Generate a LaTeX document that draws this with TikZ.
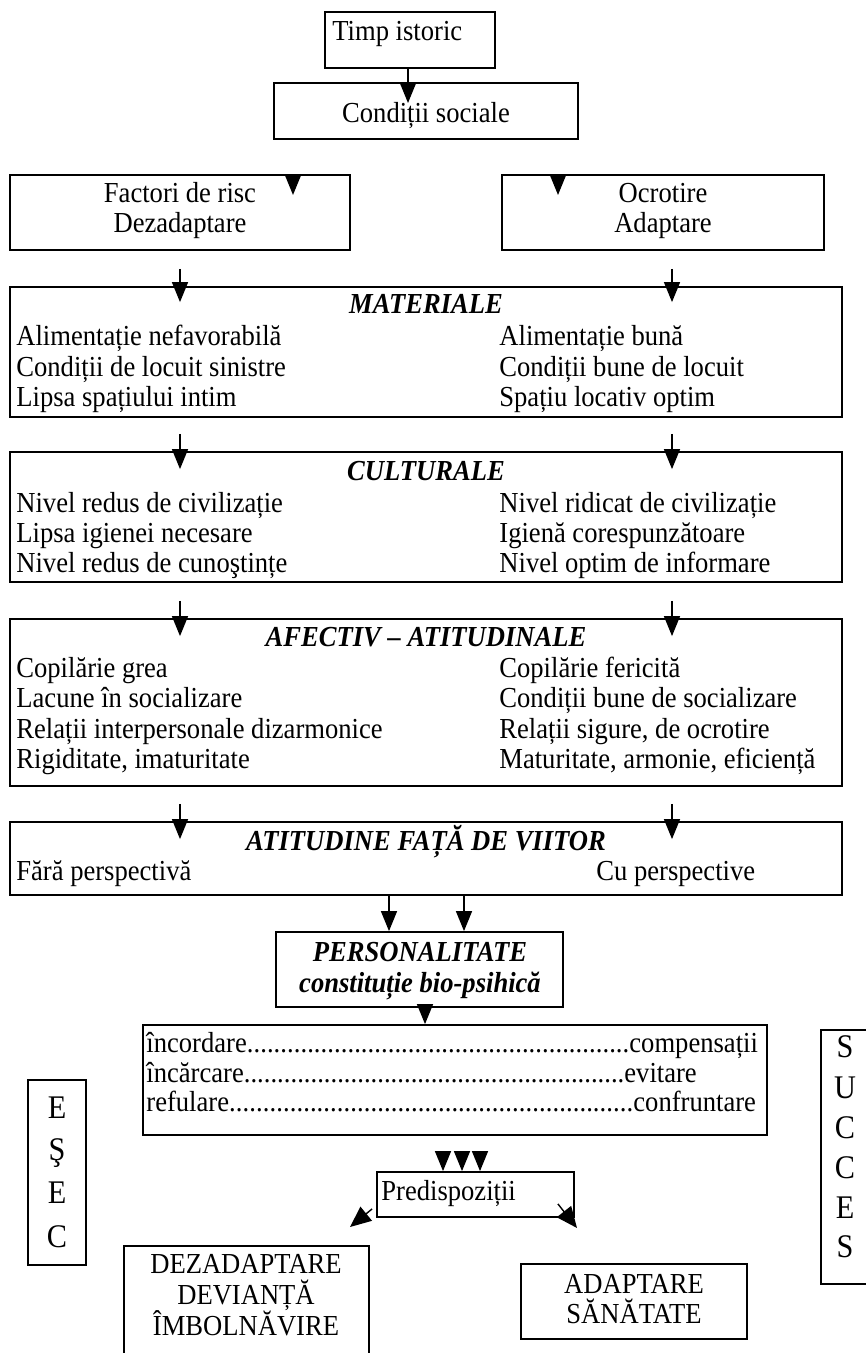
\documentclass[tikz,border=0pt]{standalone}
\usepackage{fontspec}
\setmainfont{Liberation Serif}[FakeStretch=0.917]
\usetikzlibrary{arrows.meta,fit}
\begin{document}
\begin{tikzpicture}[x=0.5pt,y=-0.5pt,
  box/.style={draw,line width=0.9pt,inner sep=0pt,fit={#1}},
  txt/.style={font=\fontsize{14.5}{16}\selectfont,inner sep=0pt,anchor=base west},
  txtc/.style={font=\fontsize{14.5}{16}\selectfont,inner sep=0pt,anchor=base},
  ttl/.style={font=\fontsize{14.5}{16}\selectfont\bfseries\itshape,inner sep=0pt,anchor=base},
  big/.style={font=\fontsize{16.5}{18}\selectfont,inner sep=0pt,anchor=base},
  arr/.style={-{Triangle[width=8pt,length=10pt]},line width=0.7pt}]
\useasboundingbox (0,0) rectangle (866,1353);
\clip (0,0) rectangle (866,1353);
\fill[white] (0,0) rectangle (866,1353);
% boxes
\node[box={(325,12)(495,68)}] (timp) {};
\node[box={(274,83)(578,139)}] (cond) {};
\node[box={(10,175)(350,250)}] (fact) {};
\node[box={(502,175)(824,250)}] (ocr) {};
\node[box={(10,287)(842,417)}] (mat) {};
\node[box={(10,452)(842,582)}] (cult) {};
\node[box={(10,619)(842,786)}] (afec) {};
\node[box={(10,822)(842,895)}] (atit) {};
\node[box={(276,932)(563,1007)}] (pers) {};
\node[box={(143,1025)(767,1135)}] (dots) {};
\node[box={(28,1080)(86,1265)}] (esec) {};
\node[box={(821,1030)(900,1284)}] (succ) {};
\node[box={(377,1172)(574,1217)}] (pred) {};
\node[box={(124,1246)(369,1420)}] (dez) {};
\node[box={(521,1264)(747,1339)}] (adap) {};
% texts
\node[txt] (tTimp) at (332,41) {Timp istoric};
\node[txtc] (tCond) at (426,123) {Condiții sociale};
\node[txtc] (tF1) at (180,203) {Factori de risc};
\node[txtc] (tF2) at (180,233) {Dezadaptare};
\node[txtc] (tO1) at (663,203) {Ocrotire};
\node[txtc] (tO2) at (663,233) {Adaptare};
\node[ttl] (tMat) at (426,314) {MATERIALE};
\node[txt] (m1) at (16,346) {Alimentație nefavorabilă};
\node[txt] (m2) at (16,376) {Condiții de locuit sinistre};
\node[txt] (m3) at (16,406) {Lipsa spațiului intim};
\node[txt] (m4) at (499,346) {Alimentație bună};
\node[txt] (m5) at (499,376) {Condiții bune de locuit};
\node[txt] (m6) at (499,406) {Spațiu locativ optim};
\node[ttl] (tCul) at (426,480) {CULTURALE};
\node[txt] (c1) at (16,512) {Nivel redus de civilizație};
\node[txt] (c2) at (16,542) {Lipsa igienei necesare};
\node[txt] (c3) at (16,572) {Nivel redus de cunoştințe};
\node[txt] (c4) at (499,512) {Nivel ridicat de civilizație};
\node[txt] (c5) at (499,542) {Igienă corespunzătoare};
\node[txt] (c6) at (499,572) {Nivel optim de informare};
\node[ttl] (tAf) at (426,646) {AFECTIV – ATITUDINALE};
\node[txt] (a1) at (16,677) {Copilărie grea};
\node[txt] (a2) at (16,707) {Lacune în socializare};
\node[txt] (a3) at (16,738) {Relații interpersonale dizarmonice};
\node[txt] (a4) at (16,768) {Rigiditate, imaturitate};
\node[txt] (a5) at (499,677) {Copilărie fericită};
\node[txt] (a6) at (499,707) {Condiții bune de socializare};
\node[txt] (a7) at (499,738) {Relații sigure, de ocrotire};
\node[txt] (a8) at (499,768) {Maturitate, armonie, eficiență};
\node[ttl] (tAt) at (426,850) {ATITUDINE FAȚĂ DE VIITOR};
\node[txt] (v1) at (16,880) {Fără perspectivă};
\node[txt] (v2) at (596,880) {Cu perspective};
\node[ttl] (tP1) at (420,961) {PERSONALITATE};
\node[ttl] (tP2) at (420,992) {constituție bio-psihică};
\node[txt] (d1) at (146,1052) {\hbox to 241.5pt{încordare\xleaders\hbox{.}\hfill}compensații};
\node[txt] (d2) at (146,1082) {\hbox to 239pt{încărcare\xleaders\hbox{.}\hfill}evitare};
\node[txt] (d3) at (146,1111) {\hbox to 243.5pt{refulare\xleaders\hbox{.}\hfill}confruntare};
\node[big] (e1) at (57,1118) {E};
\node[big] (e2) at (57,1160) {Ş};
\node[big] (e3) at (57,1203) {E};
\node[big] (e4) at (57,1247) {C};
\node[big] (s1) at (845,1057) {S};
\node[big] (s2) at (845,1098) {U};
\node[big] (s3) at (845,1138) {C};
\node[big] (s4) at (845,1178) {C};
\node[big] (s5) at (845,1218) {E};
\node[big] (s6) at (845,1257) {S};
\node[txt] (tPred) at (381,1200) {Predispoziții};
\node[txtc] (z1) at (246,1273) {DEZADAPTARE};
\node[txtc] (z2) at (246,1304) {DEVIANȚĂ};
\node[txtc] (z3) at (246,1335) {ÎMBOLNĂVIRE};
\node[txtc] (w1) at (634,1293) {ADAPTARE};
\node[txtc] (w2) at (634,1323) {SĂNĂTATE};
% arrow coordinates
\coordinate (xa) at (408,103);
\coordinate (xf) at (293,195);
\coordinate (xo) at (558,195);
\coordinate (L) at (180,0);
\coordinate (R) at (672,0);
\coordinate (p1) at (389,0);
\coordinate (p2) at (464,0);
\coordinate (q) at (425,0);
\coordinate (r1) at (443,1152);
\coordinate (r2) at (462,1152);
\coordinate (r3) at (480,1152);
\coordinate (dl) at (350,1227);
\coordinate (dr) at (577,1228);
% arrows
\draw[arr] (timp.south -| xa) -- (xa);
\draw[arr] (fact.north -| xf) -- (xf);
\draw[arr] (ocr.north -| xo) -- (xo);
\foreach \c in {L,R}{
  \draw[arr] ([yshift=-18*0.5pt]fact.south -| \c) -- ([yshift=-16*0.5pt]mat.north -| \c);
  \draw[arr] ([yshift=-16*0.5pt]mat.south -| \c) -- ([yshift=-18*0.5pt]cult.north -| \c);
  \draw[arr] ([yshift=-18*0.5pt]cult.south -| \c) -- ([yshift=-18*0.5pt]afec.north -| \c);
  \draw[arr] ([yshift=-17*0.5pt]afec.south -| \c) -- ([yshift=-18*0.5pt]atit.north -| \c);
}
\draw[arr] (atit.south -| p1) -- (pers.north -| p1);
\draw[arr] (atit.south -| p2) -- (pers.north -| p2);
\draw[arr] (pers.south -| q) -- (dots.north -| q);
\foreach \c in {r1,r2,r3}{ \draw[arr] (\c) -- (pred.north -| \c); }
\draw[arr,-{Triangle[width=9pt,length=10.5pt]}] ([shift={(-4*0.5pt,9*0.5pt)}]pred.south west) -- (dl);
\draw[arr,-{Triangle[width=9pt,length=10.5pt]}] ([shift={(-17*0.5pt,14*0.5pt)}]pred.south east) -- (dr);
\end{tikzpicture}
\end{document}
